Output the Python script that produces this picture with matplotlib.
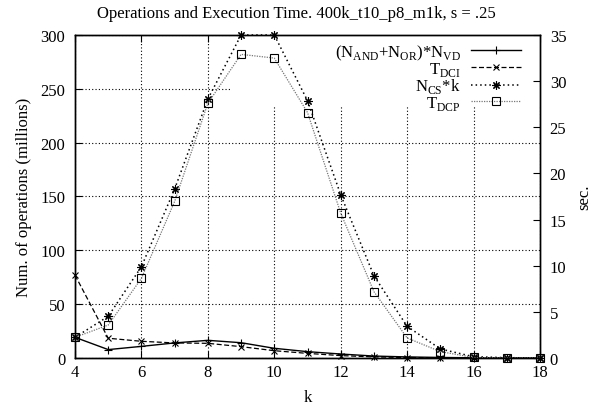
import numpy as np
import matplotlib
matplotlib.use('Agg')
import matplotlib.pyplot as plt
from matplotlib.patches import Rectangle

k = [4, 5, 6, 7, 8, 9, 10, 11, 12, 13, 14, 15, 16, 17, 18]

# left axis, millions of operations
n_vd = [19.2, 7.8, 10.8, 14.0, 16.4, 14.2, 9.0, 5.9, 3.7, 1.8, 1.0, 0.5, 0.2, 0.1, 0.05]
n_cs = [19.2, 38.7, 84.8, 157.0, 240.5, 300.0, 300.0, 239.0, 151.6, 76.4, 29.4, 8.4, 1.2, 0.3, 0.1]

# right axis, seconds
t_dci = [8.98, 2.14, 1.81, 1.63, 1.59, 1.23, 0.79, 0.50, 0.26, 0.12, 0.05, 0.02, 0.01, 0.0, 0.0]
t_dcp = [2.24, 3.57, 8.63, 16.97, 27.6, 32.9, 32.5, 26.6, 15.7, 7.19, 2.17, 0.69, 0.06, 0.0, 0.0]

xticks = [4, 6, 8, 10, 12, 14, 16, 18]
yticks = [0, 50, 100, 150, 200, 250, 300]
y2ticks = [0, 5, 10, 15, 20, 25, 30, 35]


def main():
    plt.rcParams['font.family'] = 'Liberation Serif'
    plt.rcParams['font.size'] = 12
    plt.rcParams['mathtext.fontset'] = 'custom'
    plt.rcParams['mathtext.rm'] = 'Liberation Serif'

    fig = plt.figure(figsize=(5.93, 4.10), dpi=100)
    ax = fig.add_axes([0.1265, 0.1244, 0.7841, 0.7878])
    ax2 = ax.twinx()

    ax.set_axisbelow(True)
    ax.grid(True, color='black', linestyle=(0, (1, 2)), linewidth=0.8)
    # gnuplot leaves the grid out behind the key
    ax.add_patch(Rectangle((0.333, 0.777), 0.667, 0.223, transform=ax.transAxes,
                           facecolor='white', edgecolor='none', zorder=1))

    l1, = ax.plot(k, n_vd, color='black', lw=1.0, marker='+', ms=6, mew=0.8,
                  label=r'(N$_\mathregular{AND}$+N$_\mathregular{OR}$)*N$_\mathregular{VD}$',
                  zorder=3, clip_on=False)
    l3, = ax.plot(k, n_cs, color='black', lw=1.1, linestyle=(0, (1, 2)),
                  marker=(8, 2, 0), ms=6, mew=0.8,
                  label=r'N$_\mathregular{CS}$*k', zorder=3, clip_on=False)
    l2, = ax2.plot(k, t_dci, color='black', lw=0.9, linestyle=(0, (4, 2)),
                   marker='x', ms=5, mew=0.8,
                   label=r'T$_\mathregular{DCI}$', clip_on=False)
    l4, = ax2.plot(k, t_dcp, color='#777777', lw=0.9, linestyle=(0, (1, 1)),
                   marker='s', ms=5.5, mfc='none', mec='black', mew=0.8,
                   label=r'T$_\mathregular{DCP}$', clip_on=False)

    ax.set_xlim(4, 18)
    ax.set_ylim(0, 300)
    ax2.set_ylim(0, 35)
    ax.set_xticks(xticks)
    ax.set_yticks(yticks)
    ax2.set_yticks(y2ticks)

    ax.tick_params(direction='in', top=True, right=False, length=5, width=0.8)
    ax.tick_params(axis='x', pad=4)
    ax.tick_params(axis='y', pad=7)
    ax2.tick_params(direction='in', length=5, width=0.8, pad=7)
    for a in (ax, ax2):
        for s in a.spines.values():
            s.set_linewidth(1.0)

    ax.set_xlabel('k', labelpad=7)
    ax.set_ylabel('Num. of operations (millions)', labelpad=6)
    ax2.set_ylabel('sec.', labelpad=7)

    fig.text(0.5, 0.985, 'Operations and Execution Time. 400k_t10_p8_m1k, s = .25',
             ha='center', va='top')

    ax2.legend(handles=[l1, l2, l3, l4], loc='upper right', frameon=False,
               markerfirst=False, numpoints=1, handlelength=3.0,
               handletextpad=0.6, labelspacing=-0.1,
               bbox_to_anchor=(0.975, 1.0), borderaxespad=0.1, borderpad=0.35)

    fig.savefig('out.png', dpi=100)


if __name__ == '__main__':
    main()
